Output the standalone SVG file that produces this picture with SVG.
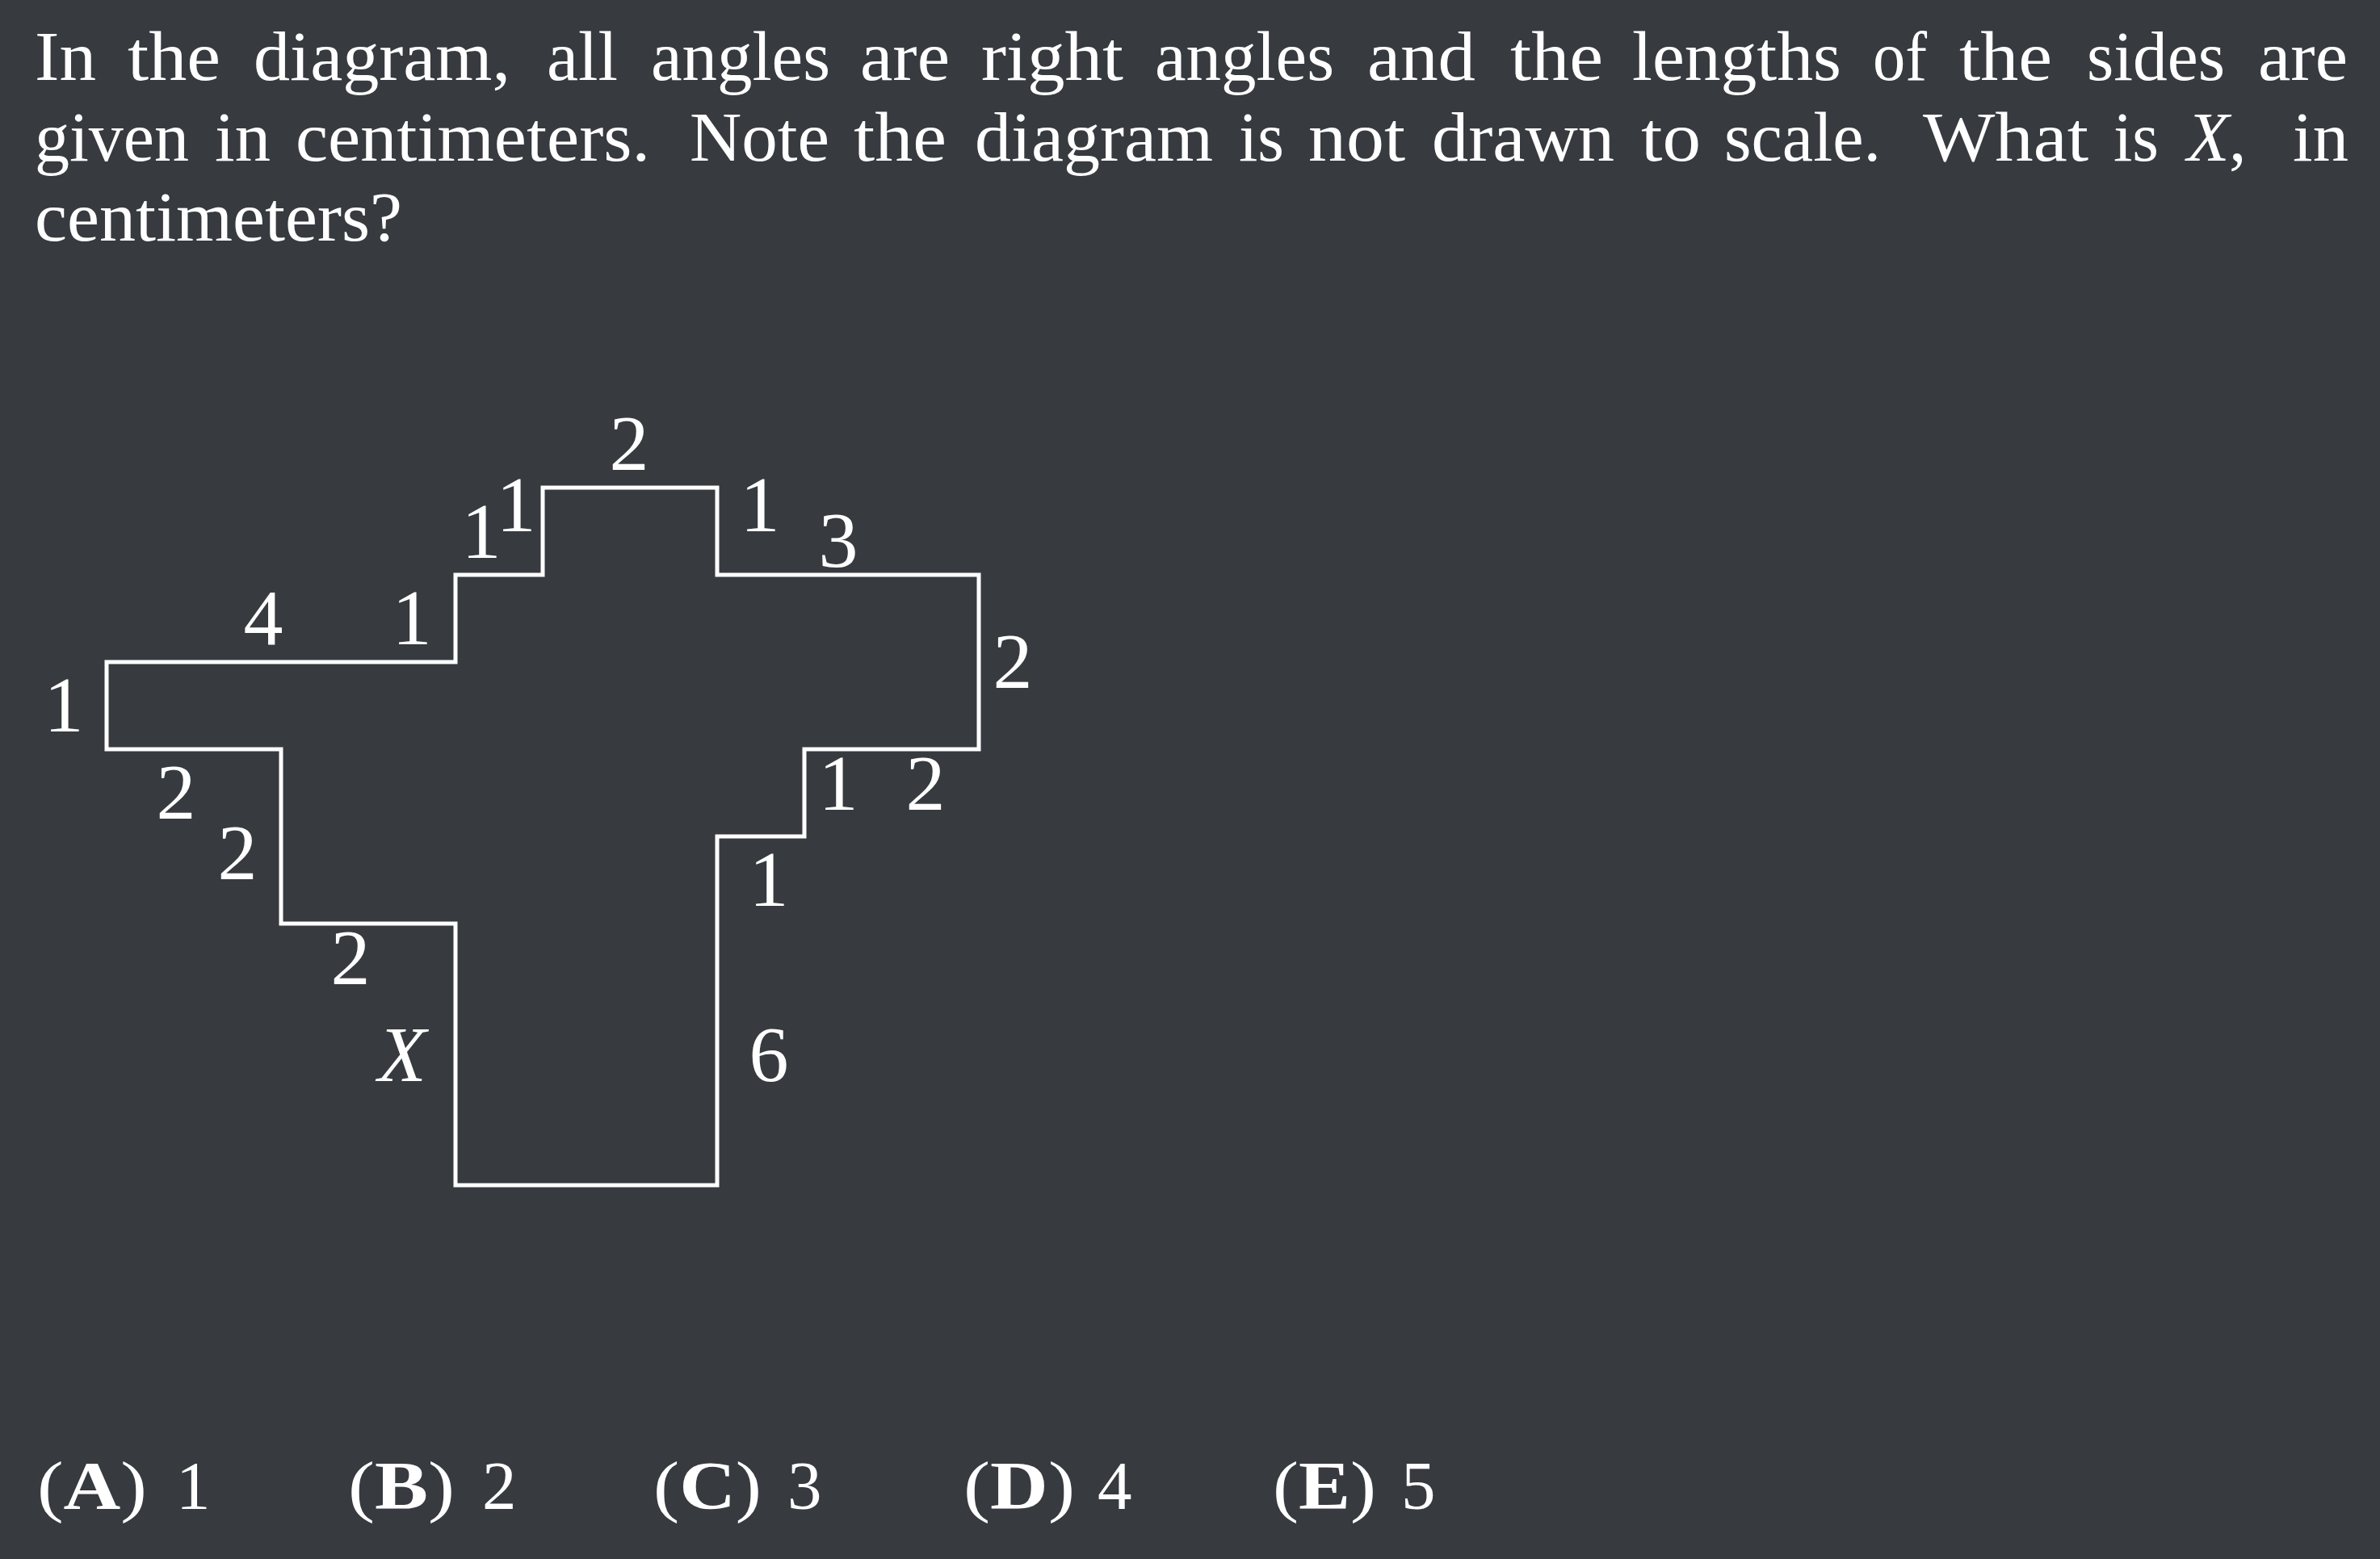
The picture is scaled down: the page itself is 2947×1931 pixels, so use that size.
<svg xmlns="http://www.w3.org/2000/svg" width="2947" height="1931" viewBox="0 0 2947 1931">
<style>
text{font-family:"Liberation Serif","DejaVu Serif",serif;fill:#ffffff}
.q text{font-size:86px}
.lbl{font-size:98px;text-anchor:middle}
.ans text{font-size:85px}
.shape{fill:none;stroke:#ffffff;stroke-width:5;stroke-linejoin:miter}
</style>
<rect x="0" y="0" width="2947" height="1931" fill="#373a3f"/>
<g id="question" class="q">
<text x="43" y="99" textLength="76" lengthAdjust="spacingAndGlyphs">In</text>
<text x="158" y="99" textLength="115" lengthAdjust="spacingAndGlyphs">the</text>
<text x="314" y="99" textLength="318" lengthAdjust="spacingAndGlyphs">diagram,</text>
<text x="677" y="99" textLength="88" lengthAdjust="spacingAndGlyphs">all</text>
<text x="806" y="99" textLength="222" lengthAdjust="spacingAndGlyphs">angles</text>
<text x="1065" y="99" textLength="111" lengthAdjust="spacingAndGlyphs">are</text>
<text x="1215" y="99" textLength="176" lengthAdjust="spacingAndGlyphs">right</text>
<text x="1430" y="99" textLength="222" lengthAdjust="spacingAndGlyphs">angles</text>
<text x="1693" y="99" textLength="134" lengthAdjust="spacingAndGlyphs">and</text>
<text x="1870" y="99" textLength="115" lengthAdjust="spacingAndGlyphs">the</text>
<text x="2021" y="99" textLength="259" lengthAdjust="spacingAndGlyphs">lengths</text>
<text x="2319" y="99" textLength="67" lengthAdjust="spacingAndGlyphs">of</text>
<text x="2426" y="99" textLength="115" lengthAdjust="spacingAndGlyphs">the</text>
<text x="2584" y="99" textLength="171" lengthAdjust="spacingAndGlyphs">sides</text>
<text x="2796" y="99" textLength="111" lengthAdjust="spacingAndGlyphs">are</text>
<text x="43" y="199" textLength="191" lengthAdjust="spacingAndGlyphs">given</text>
<text x="266" y="199" textLength="69" lengthAdjust="spacingAndGlyphs">in</text>
<text x="366" y="199" textLength="439" lengthAdjust="spacingAndGlyphs">centimeters.</text>
<text x="854" y="199" textLength="173" lengthAdjust="spacingAndGlyphs">Note</text>
<text x="1057" y="199" textLength="115" lengthAdjust="spacingAndGlyphs">the</text>
<text x="1207" y="199" textLength="295" lengthAdjust="spacingAndGlyphs">diagram</text>
<text x="1534" y="199" textLength="56" lengthAdjust="spacingAndGlyphs">is</text>
<text x="1620" y="199" textLength="120" lengthAdjust="spacingAndGlyphs">not</text>
<text x="1773" y="199" textLength="226" lengthAdjust="spacingAndGlyphs">drawn</text>
<text x="2032" y="199" textLength="74" lengthAdjust="spacingAndGlyphs">to</text>
<text x="2135" y="199" textLength="194" lengthAdjust="spacingAndGlyphs">scale.</text>
<text x="2381" y="199" textLength="205" lengthAdjust="spacingAndGlyphs">What</text>
<text x="2617" y="199" textLength="56" lengthAdjust="spacingAndGlyphs">is</text>
<text x="2708" y="199" font-style="italic">X</text>
<text x="2760" y="199">,</text>
<text x="2839" y="199" textLength="69" lengthAdjust="spacingAndGlyphs">in</text>
<text x="43" y="298" textLength="455" lengthAdjust="spacingAndGlyphs">centimeters?</text>
</g>
<g id="figure">
<path class="shape" d="M132,820 H564 V712 H672 V604 H888 V712 H1212 V928 H996 V1036 H888 V1468 H564 V1144 H348 V928 H132 Z"/>
</g>
<g id="labels">
<text class="lbl" x="79" y="906">1</text>
<text class="lbl" x="326" y="798">4</text>
<text class="lbl" x="510" y="798">1</text>
<text class="lbl" x="596" y="691">1</text>
<text class="lbl" x="639" y="658">1</text>
<text class="lbl" x="779" y="582">2</text>
<text class="lbl" x="941" y="658">1</text>
<text class="lbl" x="1038" y="702">3</text>
<text class="lbl" x="1254" y="852">2</text>
<text class="lbl" x="1038" y="1003">1</text>
<text class="lbl" x="1146" y="1003">2</text>
<text class="lbl" x="952" y="1122">1</text>
<text class="lbl" x="952" y="1339">6</text>
<text class="lbl" x="498" y="1339" font-style="italic">X</text>
<text class="lbl" x="218" y="1014">2</text>
<text class="lbl" x="294" y="1089">2</text>
<text class="lbl" x="434" y="1219">2</text>
</g>
<g id="answers" class="ans">
<text x="46" y="1869" textLength="136" lengthAdjust="spacingAndGlyphs">(<tspan font-weight="bold">A</tspan>)</text>
<text x="218" y="1869">1</text>
<text x="431" y="1869" textLength="132" lengthAdjust="spacingAndGlyphs">(<tspan font-weight="bold">B</tspan>)</text>
<text x="597" y="1869">2</text>
<text x="809" y="1869" textLength="134" lengthAdjust="spacingAndGlyphs">(<tspan font-weight="bold">C</tspan>)</text>
<text x="975" y="1869">3</text>
<text x="1193" y="1869" textLength="138" lengthAdjust="spacingAndGlyphs">(<tspan font-weight="bold">D</tspan>)</text>
<text x="1359" y="1869">4</text>
<text x="1576" y="1869" textLength="128" lengthAdjust="spacingAndGlyphs">(<tspan font-weight="bold">E</tspan>)</text>
<text x="1735" y="1869">5</text>
</g>
</svg>
